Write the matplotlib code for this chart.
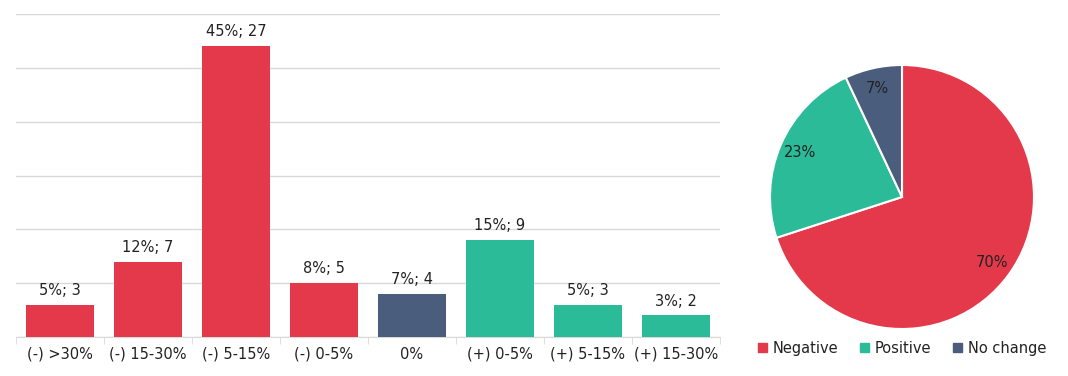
import matplotlib.pyplot as plt
from matplotlib.patches import Patch

plt.rcParams['font.family'] = ['DejaVu Sans']

# bar chart data
categories = ['(-) >30%', '(-) 15-30%', '(-) 5-15%', '(-) 0-5%', '0%', '(+) 0-5%', '(+) 5-15%', '(+) 15-30%']
counts = [3, 7, 27, 5, 4, 9, 3, 2]
shares = ['5%', '12%', '45%', '8%', '7%', '15%', '5%', '3%']
groups = ['Negative', 'Negative', 'Negative', 'Negative', 'No change', 'Positive', 'Positive', 'Positive']

# pie data
pie_labels = ['Negative', 'Positive', 'No change']
pie_values = [70, 23, 7]

colors = {'Negative': '#E3394B', 'Positive': '#2CBB98', 'No change': '#4A5D7C'}

fig = plt.figure(figsize=(10.68, 3.76), dpi=100)

# Bar chart
ax = fig.add_axes([16 / 1068, 1 - 337 / 376, 704 / 1068, 323 / 376])
x = list(range(len(categories)))
bars = ax.bar(x, counts, width=0.77, color=[colors[g] for g in groups], zorder=3)
for b, c, s in zip(bars, counts, shares):
    ax.annotate(f'{s}; {c}', (b.get_x() + b.get_width() / 2, b.get_height()),
                xytext=(0, 5), textcoords='offset points', ha='center', va='bottom',
                fontsize=10.5, color='#222222')

ax.set_xlim(-0.5, len(categories) - 0.5)
ax.set_ylim(0, 30)
ax.set_yticks(range(0, 31, 5))
ax.set_yticklabels([])
ax.tick_params(axis='y', length=0)
ax.grid(axis='y', color='#D9D9D9', linewidth=1, zorder=0)
ax.set_xticks(x)
ax.set_xticklabels(categories, fontsize=10.5, color='#222222')
ax.set_xticks([i - 0.5 for i in range(len(categories) + 1)], minor=True)
ax.tick_params(axis='x', which='major', length=0, pad=7)
ax.tick_params(axis='x', which='minor', length=5, color='#D9D9D9')
for side in ['top', 'right', 'left']:
    ax.spines[side].set_visible(False)
ax.spines['bottom'].set_color('#D9D9D9')

# Pie chart
ax2 = fig.add_axes([770 / 1068, 1 - 329 / 376, 264 / 1068, 264 / 376])
ax2.pie(pie_values, colors=[colors[l] for l in pie_labels], startangle=90, counterclock=False,
        autopct='%d%%', pctdistance=0.84, radius=1,
        wedgeprops={'edgecolor': 'white', 'linewidth': 1.5},
        textprops={'fontsize': 10.5, 'color': '#222222'})
ax2.set_xlim(-1, 1)
ax2.set_ylim(-1, 1)
ax2.set_aspect('equal')

handles = [Patch(color=colors[l], label=l) for l in pie_labels]
ax2.legend(handles=handles, loc='upper center', bbox_to_anchor=(0.5, 0.005), ncol=3,
           frameon=False, handlelength=0.6, handleheight=0.6, handletextpad=0.4,
           columnspacing=1.5, fontsize=10.5, labelcolor='#222222')

fig.savefig('out.png', dpi=100)
